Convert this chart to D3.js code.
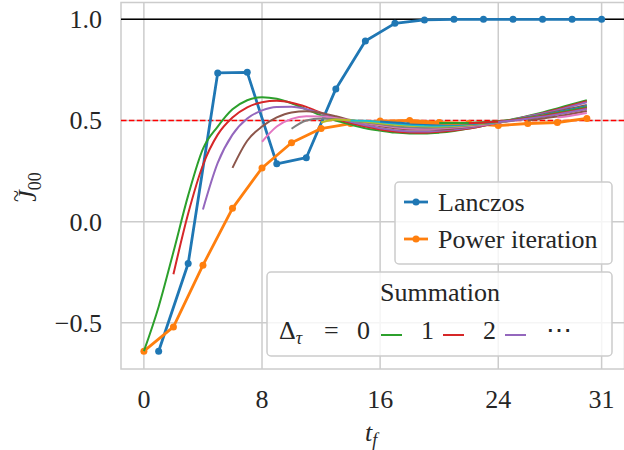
<!DOCTYPE html>
<html>
<head>
<meta charset="utf-8">
<script src="https://cdn.jsdelivr.net/npm/d3@7"></script>
</head>
<body style="margin:0">
<svg id="fig" width="624" height="450"></svg>
<script>
// ---- data ----
const lanczosT = [1, 3, 5, 7, 9, 11, 13, 15, 17, 19, 21, 23, 25, 27, 29, 31];
const lanczosJ = [-0.64, -0.207, 0.735, 0.738, 0.286, 0.316, 0.656, 0.893, 0.98, 0.997, 1, 1, 1, 1, 1, 1];

const powerT = [0, 2, 4, 6, 8, 10, 12, 14, 16, 18, 20, 22, 24, 26, 28, 30];
const powerJ = [-0.64, -0.52, -0.215, 0.066, 0.265, 0.39, 0.46, 0.485, 0.497, 0.5, 0.49, 0.485, 0.475, 0.485, 0.49, 0.51];

// summation curves, one per Delta tau, sampled at integer t_f from summationStart
const summationStart = [0, 2, 4, 6, 8, 10, 12, 14, 16, 18, 20, 22, 24, 26, 28];
const sumD0 = [-0.64, -0.42, -0.15, 0.13, 0.36, 0.47, 0.555, 0.6, 0.615, 0.607, 0.585, 0.555, 0.525, 0.5, 0.48, 0.462, 0.45, 0.44, 0.436, 0.436, 0.44, 0.448, 0.46, 0.474, 0.49, 0.506, 0.522, 0.54, 0.56, 0.58, 0.6];
const sumD1 = [-0.26, 0.04, 0.28, 0.43, 0.515, 0.565, 0.59, 0.597, 0.588, 0.567, 0.538, 0.51, 0.487, 0.47, 0.456, 0.446, 0.441, 0.44, 0.444, 0.45, 0.46, 0.474, 0.489, 0.504, 0.52, 0.536, 0.555, 0.575, 0.595];
const sumD2 = [0.06, 0.29, 0.43, 0.51, 0.55, 0.567, 0.568, 0.556, 0.536, 0.515, 0.493, 0.476, 0.462, 0.452, 0.446, 0.445, 0.449, 0.455, 0.464, 0.476, 0.49, 0.505, 0.52, 0.535, 0.551, 0.57, 0.59];
const sumD3 = [0.266, 0.4, 0.47, 0.515, 0.54, 0.546, 0.537, 0.521, 0.502, 0.486, 0.472, 0.462, 0.456, 0.455, 0.456, 0.461, 0.469, 0.479, 0.49, 0.501, 0.515, 0.53, 0.545, 0.56, 0.577];
const sumD4 = [0.395, 0.47, 0.508, 0.521, 0.52, 0.511, 0.5, 0.487, 0.476, 0.467, 0.461, 0.459, 0.461, 0.465, 0.471, 0.479, 0.489, 0.499, 0.51, 0.521, 0.535, 0.55, 0.565];
const sumD5 = [0.459, 0.5, 0.51, 0.506, 0.499, 0.49, 0.481, 0.472, 0.466, 0.464, 0.465, 0.469, 0.475, 0.482, 0.49, 0.5, 0.51, 0.521, 0.533, 0.547, 0.562];
const sumD6 = [0.49, 0.505, 0.501, 0.494, 0.486, 0.479, 0.474, 0.471, 0.47, 0.473, 0.478, 0.485, 0.492, 0.501, 0.511, 0.522, 0.535, 0.55, 0.565];
const sumD7 = [0.5, 0.499, 0.492, 0.485, 0.479, 0.475, 0.474, 0.476, 0.481, 0.487, 0.494, 0.503, 0.513, 0.525, 0.539, 0.554, 0.57];
const sumD8 = [0.495, 0.49, 0.485, 0.482, 0.48, 0.48, 0.483, 0.488, 0.494, 0.503, 0.513, 0.525, 0.539, 0.554, 0.57];
const sumD9 = [0.49, 0.487, 0.485, 0.484, 0.486, 0.49, 0.495, 0.503, 0.512, 0.523, 0.536, 0.55, 0.565];
const sumD10 = [0.487, 0.487, 0.488, 0.491, 0.496, 0.504, 0.513, 0.524, 0.537, 0.551, 0.566];
const sumD11 = [0.487, 0.49, 0.495, 0.502, 0.511, 0.521, 0.533, 0.546, 0.56];
const sumD12 = [0.493, 0.5, 0.508, 0.518, 0.53, 0.543, 0.557];
const sumD13 = [0.5, 0.51, 0.52, 0.533, 0.547];
const sumD14 = [0.515, 0.525, 0.537];
const summation = [sumD0, sumD1, sumD2, sumD3, sumD4, sumD5, sumD6, sumD7, sumD8, sumD9, sumD10, sumD11, sumD12, sumD13, sumD14];

const xTicks = [0, 8, 16, 24, 31];
const yTicks = [-0.5, 0, 0.5, 1.0];

// ---- drawing ----
const tab10 = d3.schemeCategory10;
const svg = d3.select('#fig');
const pLeft = 121, pRight = 624.5, pTop = 2.5, pBottom = 369;
const ink = '#262626';
const fs = 26;
const serif = '"Liberation Serif", "Times New Roman", serif';

const x = d3.scaleLinear().domain([-1.55, 32.55]).range([pLeft, pRight]);
const y = d3.scaleLinear().domain([-0.728, 1.083]).range([pBottom, pTop]);

function label(parent, tx, ty, str, size) {
  return parent.append('text').attr('font-family', serif).style('font-family', serif)
    .attr('font-size', size || fs)
    .attr('fill', ink).attr('x', tx).attr('y', ty).text(str);
}

svg.append('defs').append('clipPath').attr('id', 'plot')
  .append('rect').attr('x', pLeft).attr('y', pTop)
  .attr('width', pRight - pLeft).attr('height', pBottom - pTop);

// grid
const grid = svg.append('g');
grid.selectAll('.vg').data(xTicks).enter().append('line')
  .attr('x1', d => x(d)).attr('x2', d => x(d)).attr('y1', pTop).attr('y2', pBottom)
  .attr('stroke', '#cccccc').attr('stroke-width', 1.5);
grid.selectAll('.hg').data(yTicks).enter().append('line')
  .attr('x1', pLeft).attr('x2', pRight).attr('y1', d => y(d)).attr('y2', d => y(d))
  .attr('stroke', '#cccccc').attr('stroke-width', 1.5);
grid.append('rect')
  .attr('x', pLeft).attr('y', pTop).attr('width', pRight - pLeft).attr('height', pBottom - pTop)
  .attr('fill', 'none').attr('stroke', '#cccccc').attr('stroke-width', 1.5);

const plot = svg.append('g').attr('clip-path', 'url(#plot)');

// reference levels
plot.append('line').attr('x1', pLeft).attr('x2', pRight).attr('y1', y(1)).attr('y2', y(1))
  .attr('stroke', '#000').attr('stroke-width', 1.6);
plot.append('line').attr('x1', pLeft).attr('x2', pRight).attr('y1', y(0.5)).attr('y2', y(0.5))
  .attr('stroke', '#ff0000').attr('stroke-width', 1.6).attr('stroke-dasharray', '5.5,2.4');

const line = d3.line().x(d => x(d[0])).y(d => y(d[1]));

function series(ts, js, color) {
  const pts = ts.map((t, i) => [t, js[i]]);
  plot.append('path').datum(pts).attr('d', line)
    .attr('fill', 'none').attr('stroke', color).attr('stroke-width', 2.8)
    .attr('stroke-linejoin', 'round');
  plot.selectAll(null).data(pts).enter().append('circle')
    .attr('cx', d => x(d[0])).attr('cy', d => y(d[1])).attr('r', 3.5)
    .attr('fill', color);
}
series(lanczosT, lanczosJ, tab10[0]);
series(powerT, powerJ, tab10[1]);

const smooth = d3.line().x(d => x(d[0])).y(d => y(d[1])).curve(d3.curveMonotoneX);
summation.forEach((vals, k) => {
  const pts = vals.map((v, i) => [summationStart[k] + i, v]);
  plot.append('path').datum(pts).attr('d', smooth)
    .attr('fill', 'none').attr('stroke', tab10[(k + 2) % 10]).attr('stroke-width', 2);
});

// tick labels
xTicks.forEach(t => label(svg, x(t), 408, String(t)).attr('text-anchor', 'middle'));
const fmt = d3.format('.1f');
yTicks.forEach(v => label(svg, 102, y(v) + 9, fmt(v)).attr('text-anchor', 'end'));

// axis labels
const xl = label(svg, 365, 441, '').attr('font-style', 'italic');
xl.append('tspan').text('t');
xl.append('tspan').attr('font-size', 18).attr('dy', 5).text('f');

const yl = svg.append('g').attr('transform', 'translate(36,187) rotate(-90)');
const ylt = label(yl, 0, 0, '').attr('text-anchor', 'middle');
ylt.append('tspan').attr('font-style', 'italic').text('J');
ylt.append('tspan').attr('font-size', 18).attr('dy', 5).text('00');
label(yl, -9, -13, '~', 22).attr('text-anchor', 'middle');

// legend: methods
const lg = svg.append('g');
lg.append('rect').attr('x', 395).attr('y', 182).attr('width', 217).attr('height', 82).attr('rx', 4)
  .attr('fill', '#fff').attr('fill-opacity', 0.8).attr('stroke', '#cccccc').attr('stroke-width', 1.5);
const methods = ['Lanczos', 'Power iteration'];
methods.forEach((name, i) => {
  const cy = 202 + i * 37;
  lg.append('line').attr('x1', 404).attr('x2', 428).attr('y1', cy).attr('y2', cy)
    .attr('stroke', tab10[i]).attr('stroke-width', 2.8);
  lg.append('circle').attr('cx', 416).attr('cy', cy).attr('r', 3.5).attr('fill', tab10[i]);
  label(lg, 438, cy + 9, name);
});

// legend: summation
const ls = svg.append('g');
ls.append('rect').attr('x', 267).attr('y', 272).attr('width', 345).attr('height', 84).attr('rx', 4)
  .attr('fill', '#fff').attr('fill-opacity', 0.8).attr('stroke', '#cccccc').attr('stroke-width', 1.5);
label(ls, 440, 301, 'Summation').attr('text-anchor', 'middle');
const dt = label(ls, 279, 339, '');
dt.append('tspan').text('Δ');
dt.append('tspan').attr('font-size', 18).attr('font-style', 'italic').attr('dy', 5).text('τ');
label(ls, 324, 339, '=');
label(ls, 357, 339, '0');
const swatchX = [381, 443, 505];
const swatchLab = ['1', '2'];
swatchX.forEach((sx, i) => {
  ls.append('line').attr('x1', sx).attr('x2', sx + 21).attr('y1', 335).attr('y2', 335)
    .attr('stroke', tab10[i + 2]).attr('stroke-width', 2);
});
swatchLab.forEach((s, i) => label(ls, 421 + i * 62, 339, s));
label(ls, 546, 339, '⋯');
</script>
</body>
</html>
